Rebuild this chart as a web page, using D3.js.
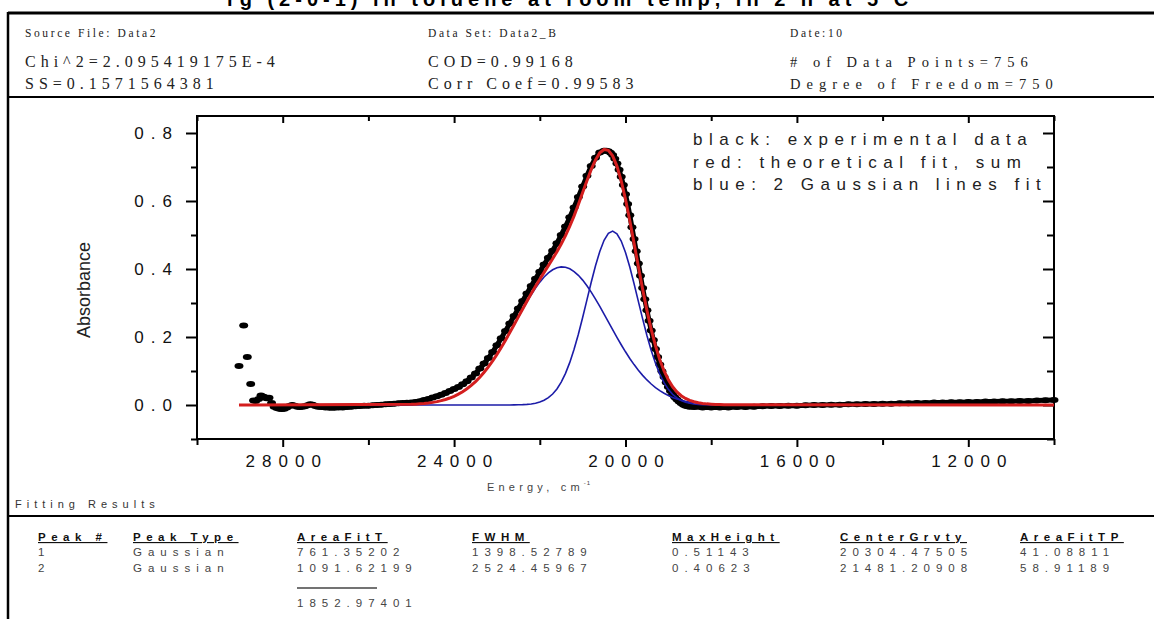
<!DOCTYPE html>
<html>
<head>
<meta charset="utf-8">
<script src="https://cdn.jsdelivr.net/npm/d3@7"></script>
<style>
  body { margin: 0; background: #fff; }
  svg { display: block; }
  .serif { font-family: "Liberation Serif", "Times New Roman", serif; fill: #222; }
  .sans { font-family: "Liberation Sans", Arial, sans-serif; }
  .tick line { stroke: #000; stroke-width: 2; }
</style>
</head>
<body>
<svg id="chart" width="1154" height="619"></svg>
<script>
// Gaussian fitting report, absorbance vs energy

var title = "rg (2-0-1) in toluene at room temp, in 2 h at 5 C";

var headerCols = [
  ["Source File: Data2", "Chi^2=2.095419175E-4", "SS=0.1571564381"],
  ["Data Set: Data2_B", "COD=0.99168", "Corr Coef=0.99583"],
  ["Date:10", "# of Data Points=756", "Degree of Freedom=750"]
];

var legendLines = ["black: experimental data", "red: theoretical fit, sum", "blue: 2 Gaussian lines fit"];

var xMajor = [28000, 24000, 20000, 16000, 12000];
var xMinor = [30000, 26000, 22000, 18000, 14000, 10000];
var yMajor = [0, 0.2, 0.4, 0.6, 0.8];
var yMinor = [-0.1, 0.1, 0.3, 0.5, 0.7];

// experimental data (black markers), energy in cm-1
var expEnergy = [
  29020, 28910, 28826, 28747, 28680, 28630, 28560, 28506, 28440, 28380,
  28320, 28260, 28200, 28140, 28080, 28020, 27960, 27900, 27840, 27780,
  27720, 27660, 27600, 27540, 27480, 27420, 27360, 27300, 27240, 27180,
  27100, 27000, 26900, 26800, 26700, 26600, 26500, 26400, 26300, 26200,
  26100, 26000, 25900, 25800, 25700, 25600, 25500, 25400, 25300, 25200,
  25100,
  25000, 24900, 24800, 24700, 24600, 24500, 24400, 24300, 24200, 24100,
  24000, 23900, 23800, 23700, 23600, 23500, 23400, 23300, 23200, 23100,
  23000, 22900, 22800, 22700, 22600, 22500, 22400, 22300, 22200, 22100,
  22000, 21900, 21800, 21700, 21600, 21500, 21400, 21300, 21200, 21100,
  21000, 20900, 20800, 20700, 20600, 20500,
  20450, 20400, 20350, 20300, 20250, 20200, 20150, 20100, 20050, 20000,
  19950, 19900, 19850, 19800, 19750, 19700, 19650, 19600, 19550, 19500,
  19450, 19400, 19350, 19300, 19250, 19200, 19150, 19100, 19050, 19000,
  18950, 18900, 18850, 18800, 18750, 18700, 18650, 18600, 18550, 18500,
  18400, 18200, 18000, 17800, 17600, 17400, 17200, 17000, 16800, 16600,
  16400, 16200, 16000, 15800, 15600, 15400, 15200, 15000, 14800, 14600,
  14400, 14200, 14000, 13800, 13600, 13400, 13200, 13000, 12800, 12600,
  12400, 12200, 12000, 11800, 11600, 11400, 11200, 11000, 10800, 10600,
  10400, 10200, 10000
];
var expAbs = [
  0.115, 0.234, 0.141, 0.062, 0.013, 0.012, 0.018, 0.028, 0.024, 0.020,
  0.021, 0.006, -0.005, -0.009, -0.011, -0.012, -0.011, -0.007, -0.003, 0.000,
  -0.002, -0.005, -0.006, -0.005, -0.004, -0.001, 0.002, 0.001, -0.003, -0.005,
  -0.006, -0.007, -0.008, -0.008, -0.007, -0.007, -0.006, -0.005, -0.004, -0.003,
  -0.002, -0.002, -0.001, 0.000, 0.001, 0.002, 0.003, 0.004, 0.005, 0.006,
  0.0065,
  0.007, 0.009, 0.011, 0.0145, 0.018, 0.022, 0.026, 0.030, 0.035, 0.041,
  0.047, 0.053, 0.061, 0.070, 0.081, 0.093, 0.107, 0.122, 0.138, 0.156,
  0.176, 0.196, 0.218, 0.240, 0.262, 0.284, 0.306, 0.328, 0.350, 0.371,
  0.392, 0.413, 0.433, 0.454, 0.476, 0.500, 0.525, 0.552, 0.581, 0.612,
  0.643, 0.674, 0.703, 0.727, 0.743, 0.748,
  0.748, 0.746, 0.742, 0.735, 0.724, 0.710, 0.692, 0.671, 0.647, 0.620,
  0.591, 0.558, 0.523, 0.488, 0.452, 0.416, 0.380, 0.344, 0.311, 0.279,
  0.248, 0.219, 0.191, 0.165, 0.141, 0.119, 0.099, 0.082, 0.066, 0.053,
  0.041, 0.031, 0.023, 0.016, 0.010, 0.005, 0.001, -0.002, -0.004, -0.005,
  -0.006, -0.007, -0.007, -0.007, -0.007, -0.006, -0.006, -0.005, -0.004, -0.003,
  -0.003, -0.002, -0.002, -0.001, 0.000, 0.000, 0.001, 0.001, 0.002, 0.002,
  0.003, 0.003, 0.004, 0.004, 0.005, 0.005, 0.006, 0.006, 0.007, 0.007,
  0.008, 0.008, 0.009, 0.009, 0.010, 0.010, 0.011, 0.011, 0.012, 0.012,
  0.013, 0.014, 0.015
];

// fitted curves (red sum, blue components)
var fitEnergy = [
  29020,
  25000, 24900, 24800, 24700, 24600, 24500, 24400, 24300, 24200, 24100,
  24000, 23900, 23800, 23700, 23600, 23500, 23400, 23300, 23200, 23100,
  23000, 22900, 22800, 22700, 22600, 22500, 22400, 22300, 22200, 22100,
  22000, 21900, 21800, 21700, 21600, 21500, 21400, 21300, 21200, 21100,
  21000, 20900, 20800, 20700, 20600, 20500, 20400, 20300, 20200, 20100,
  20000, 19900, 19800, 19700, 19600, 19500, 19400, 19300, 19200, 19100,
  19000, 18900, 18800, 18700, 18600, 18500, 18400, 18300, 18200, 18100,
  18000, 17900, 17800, 17700, 17600,
  10000
];
var gauss1 = [
  0,
  0, 0, 0, 0, 0, 0, 0, 0, 0, 0,
  0, 0, 0, 0, 0, 0, 0, 0, 0, 0,
  0, 0.00004, 0.00007, 0.00015, 0.00029, 0.00055, 0.00101, 0.00180, 0.00313, 0.00529,
  0.00867, 0.01383, 0.02144, 0.03228, 0.04729, 0.06733, 0.09316, 0.12533, 0.16389, 0.20831,
  0.25738, 0.30910, 0.36085, 0.40949, 0.45170, 0.48432, 0.50479, 0.51142, 0.50365, 0.48213,
  0.44863, 0.40579, 0.35677, 0.30493, 0.25332, 0.20457, 0.16057, 0.12253, 0.09087, 0.06551,
  0.04592, 0.03127, 0.02071, 0.01333, 0.00834, 0.00507, 0.00300, 0.00172, 0.00096, 0.00052,
  0.00028, 0.00014, 0.00007, 0.00003, 0.00002,
  0
];
var gauss2 = [
  0,
  0.00186, 0.00251, 0.00337, 0.00448, 0.00590, 0.00771, 0.00998, 0.01280, 0.01629, 0.02054,
  0.02569, 0.03185, 0.03914, 0.04769, 0.05760, 0.06895, 0.08184, 0.09629, 0.11232, 0.12986,
  0.14888, 0.16917, 0.19058, 0.21282, 0.23561, 0.25857, 0.28131, 0.30341, 0.32442, 0.34386,
  0.36131, 0.37636, 0.38864, 0.39784, 0.40374, 0.40617, 0.40507, 0.40048, 0.39251, 0.38137,
  0.36733, 0.35074, 0.33201, 0.31155, 0.28982, 0.26727, 0.24434, 0.22144, 0.19894, 0.17718,
  0.15645, 0.13693, 0.11881, 0.10220, 0.08716, 0.07368, 0.06173, 0.05128, 0.04224, 0.03448,
  0.02791, 0.02239, 0.01781, 0.01405, 0.01098, 0.00851, 0.00654, 0.00498, 0.00375, 0.00281,
  0.00209, 0.00154, 0.00112, 0.00081, 0.00058,
  0
];
var fitSum = [
  0,
  0.00186, 0.00251, 0.00337, 0.00448, 0.00590, 0.00771, 0.00998, 0.01280, 0.01629, 0.02054,
  0.02569, 0.03185, 0.03914, 0.04769, 0.05760, 0.06895, 0.08184, 0.09629, 0.11232, 0.12986,
  0.14888, 0.16921, 0.19065, 0.21297, 0.23590, 0.25912, 0.28232, 0.30521, 0.32755, 0.34915,
  0.36998, 0.39019, 0.41008, 0.43012, 0.45103, 0.47350, 0.49823, 0.52581, 0.55640, 0.58968,
  0.62471, 0.65984, 0.69286, 0.72104, 0.74152, 0.75159, 0.74913, 0.73286, 0.70259, 0.65931,
  0.60508, 0.54272, 0.47558, 0.40713, 0.34048, 0.27825, 0.22230, 0.17381, 0.13311, 0.09999,
  0.07383, 0.05366, 0.03852, 0.02738, 0.01932, 0.01358, 0.00954, 0.00670, 0.00471, 0.00333,
  0.00237, 0.00168, 0.00119, 0.00084, 0.00060,
  0
];

// fitting results table
var tableHeads = ["Peak #", "Peak Type", "AreaFitT", "FWHM", "MaxHeight", "CenterGrvty", "AreaFitTP"];
var peakRows = [
  ["1", "Gaussian", "761.35202", "1398.52789", "0.51143", "20304.47505", "41.08811"],
  ["2", "Gaussian", "1091.62199", "2524.45967", "0.40623", "21481.20908", "58.91189"]
];
var areaTotal = "1852.97401";


var svg = d3.select("#chart");
var colX = [38, 133, 297, 472, 672, 840, 1020];

// ---- frame lines of the report (title is cut by the page top, as in the original)
svg.append("text")
   .attr("class", "sans")
   .attr("x", 570).attr("y", 6)
   .attr("text-anchor", "middle")
   .style("font-size", "20px").style("font-weight", "bold")
   .style("letter-spacing", "5px")
   .text(title);

function hline(y, w) {
  svg.append("line").attr("x1", 8).attr("x2", 1154).attr("y1", y).attr("y2", y)
     .attr("stroke", "#000").attr("stroke-width", w);
}
hline(13, 3);
hline(97, 2);
hline(516, 2);
svg.append("line").attr("x1", 8).attr("x2", 8).attr("y1", 12).attr("y2", 619)
   .attr("stroke", "#000").attr("stroke-width", 2.5);

// ---- header statistics
var headerX = [25, 428, 790];
var rowY = [37, 67, 89];
headerCols.forEach(function (col, c) {
  col.forEach(function (txt, r) {
    var small = r === 0, narrow = c === 2 && r > 0;
    svg.append("text")
       .attr("class", "serif")
       .attr("x", headerX[c]).attr("y", rowY[r])
       .style("font-size", small ? "11.5px" : (narrow ? "14.5px" : "16px"))
       .style("letter-spacing", small ? "2.6px" : (narrow ? "6px" : "5px"))
       .text(txt);
  });
});

// ---- plot
var x = d3.scaleLinear().domain([30000, 10000]).range([197, 1054]);
var y = d3.scaleLinear().domain([-0.1, 0.85]).range([439, 116]);

function styleAxis(g) {
  g.select(".domain").remove();
  g.selectAll(".tick text")
   .attr("class", "sans")
   .style("font-size", "17px")
   .style("letter-spacing", "7px")
   .attr("fill", "#111");
}

svg.append("g").attr("transform", "translate(0,439)")
   .call(d3.axisBottom(x).tickValues(xMajor).tickSize(8).tickPadding(8).tickFormat(d3.format("d")))
   .call(styleAxis)
   .selectAll(".tick text").attr("dx", "3.5px");
svg.append("g").attr("transform", "translate(0,439)")
   .call(d3.axisBottom(x).tickValues(xMinor).tickSize(6).tickFormat(""))
   .call(styleAxis);
svg.append("g").attr("transform", "translate(0,116)")
   .call(d3.axisTop(x).tickValues(xMajor).tickSize(-7).tickFormat(""))
   .call(styleAxis);
svg.append("g").attr("transform", "translate(0,116)")
   .call(d3.axisTop(x).tickValues(xMinor).tickSize(-5).tickFormat(""))
   .call(styleAxis);

svg.append("g").attr("transform", "translate(197,0)")
   .call(d3.axisLeft(y).tickValues(yMajor).tickSize(11).tickPadding(7).tickFormat(d3.format(".1f")))
   .call(styleAxis);
svg.append("g").attr("transform", "translate(197,0)")
   .call(d3.axisLeft(y).tickValues(yMinor).tickSize(6).tickFormat(""))
   .call(styleAxis);
svg.append("g").attr("transform", "translate(1054,0)")
   .call(d3.axisRight(y).tickValues(yMajor).tickSize(-11).tickFormat(""))
   .call(styleAxis);
svg.append("g").attr("transform", "translate(1054,0)")
   .call(d3.axisRight(y).tickValues(yMinor).tickSize(-7).tickFormat(""))
   .call(styleAxis);

svg.append("rect")
   .attr("x", 197).attr("y", 116).attr("width", 1054 - 197).attr("height", 439 - 116)
   .attr("fill", "none").attr("stroke", "#000").attr("stroke-width", 2);

// axis titles
svg.append("text")
   .attr("class", "sans")
   .attr("transform", "translate(90,290) rotate(-90)")
   .attr("text-anchor", "middle")
   .style("font-size", "18px").attr("fill", "#222")
   .text("Absorbance");

var xTitle = svg.append("text")
   .attr("class", "sans")
   .attr("x", 487).attr("y", 491)
   .style("font-size", "11px").style("letter-spacing", "4.2px").attr("fill", "#444")
   .text("Energy, cm");
xTitle.append("tspan").attr("dy", -6).style("font-size", "6px").style("letter-spacing", "1px").text("-1");

// ---- data marks
var exp = expEnergy.map(function (e, i) { return [e, expAbs[i]]; });
var fit = fitEnergy.map(function (e, i) { return { e: e, g1: gauss1[i], g2: gauss2[i], s: fitSum[i] }; });

var expLine = d3.line().x(function (d) { return x(d[0]); }).y(function (d) { return y(d[1]); });
svg.append("path")
   .datum(exp.filter(function (d) { return d[0] <= 28300; }))
   .attr("d", expLine)
   .attr("fill", "none").attr("stroke", "#000").attr("stroke-width", 5)
   .attr("stroke-linejoin", "round");
svg.append("g").selectAll("ellipse")
   .data(exp).enter().append("ellipse")
   .attr("cx", function (d) { return x(d[0]); })
   .attr("cy", function (d) { return y(d[1]); })
   .attr("rx", 4.5).attr("ry", 3)
   .attr("fill", "#000");

function fitLine(key) {
  return d3.line().x(function (d) { return x(d.e); }).y(function (d) { return y(d[key]); });
}
["g1", "g2"].forEach(function (k) {
  svg.append("path").datum(fit).attr("d", fitLine(k))
     .attr("fill", "none").attr("stroke", "#1c1ca8").attr("stroke-width", 1.6);
});
svg.append("path").datum(fit).attr("d", fitLine("s"))
   .attr("fill", "none").attr("stroke", "#d41e1e").attr("stroke-width", 3);

// legend text
svg.append("g").selectAll("text")
   .data(legendLines).enter().append("text")
   .attr("class", "sans")
   .attr("x", 693)
   .attr("y", function (d, i) { return 145 + i * 22.5; })
   .style("font-size", "17px").style("letter-spacing", "6.5px")
   .attr("fill", "#222")
   .text(function (d) { return d; });

// ---- fitting results
svg.append("text")
   .attr("class", "sans")
   .attr("x", 15).attr("y", 508)
   .style("font-size", "11px").style("letter-spacing", "5px").attr("fill", "#333")
   .text("Fitting Results");

svg.append("g").selectAll("text")
   .data(tableHeads).enter().append("text")
   .attr("class", "sans")
   .attr("x", function (d, i) { return colX[i]; })
   .attr("y", 541)
   .style("font-size", "11.5px").style("font-weight", "bold")
   .style("letter-spacing", "5.5px")
   .style("text-decoration", "underline")
   .attr("fill", "#111")
   .text(function (d) { return d; });

peakRows.forEach(function (row, r) {
  svg.append("g").selectAll("text")
     .data(row).enter().append("text")
     .attr("class", "sans")
     .attr("x", function (d, i) { return colX[i]; })
     .attr("y", 556 + r * 16)
     .style("font-size", "11.5px").style("letter-spacing", "6px")
     .attr("fill", "#444")
     .text(function (d) { return d; });
});

svg.append("line")
   .attr("x1", colX[2]).attr("x2", colX[2] + 80).attr("y1", 588).attr("y2", 588)
   .attr("stroke", "#444").attr("stroke-width", 1.3);
svg.append("text")
   .attr("class", "sans")
   .attr("x", colX[2]).attr("y", 607)
   .style("font-size", "11.5px").style("letter-spacing", "6px")
   .attr("fill", "#444")
   .text(areaTotal);
</script>
</body>
</html>
